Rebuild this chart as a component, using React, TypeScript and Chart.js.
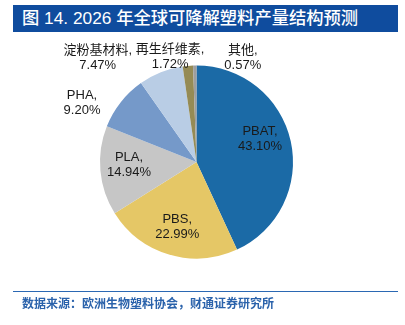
import React, { useEffect, useRef } from "react";
import { Chart, registerables } from "chart.js";

Chart.register(...registerables);

const categories = ["PBAT", "PBS", "PLA", "PHA", "淀粉基材料", "再生纤维素", "其他"];
const shares = [43.1, 22.99, 14.94, 9.2, 7.47, 1.72, 0.57];
const colors = ["#1b6aa6", "#e5c766", "#c6c6c6", "#7599c9", "#b9cde5", "#958b55", "#9e9e9e"];
// label placement: clockwise angle shift (deg) from slice middle, and radius factor
const labelAngleShift = [-7.6, 0, 2.7, -11, -21.7, -9, 25];
const labelRadius = [0.7, 0.7, 0.7, 1.335, 1.49, 1.12, 1.18];

const FONT = '"Liberation Sans", Arial, "Noto Sans CJK SC", sans-serif';

const labelPlugin = {
  id: "sliceLabels",
  afterDatasetsDraw(chart: any) {
    const meta = chart.getDatasetMeta(0);
    const ctx = chart.ctx;
    ctx.save();
    ctx.fillStyle = "#1a1a1a";
    ctx.font = `13px ${FONT}`;
    ctx.textAlign = "center";
    ctx.textBaseline = "middle";
    meta.data.forEach((arc: any, i: number) => {
      const p = arc.getProps(["x", "y", "startAngle", "endAngle", "outerRadius"], true);
      const mid = (p.startAngle + p.endAngle) / 2 + (labelAngleShift[i] * Math.PI) / 180;
      const r = p.outerRadius * labelRadius[i];
      const lx = p.x + Math.cos(mid) * r;
      const ly = p.y + Math.sin(mid) * r;
      const lines = [categories[i] + ",", shares[i].toFixed(2) + "%"];
      const lh = 15;
      lines.forEach((t, k) => {
        ctx.fillText(t, lx, ly + (k - (lines.length - 1) / 2) * lh);
      });
    });
    ctx.restore();
  },
};

export default function App() {
  const ref = useRef<HTMLCanvasElement | null>(null);
  useEffect(() => {
    if (!ref.current) return;
    const chart = new Chart(ref.current, {
      type: "pie",
      data: {
        labels: categories,
        datasets: [
          {
            data: shares,
            backgroundColor: colors,
            borderWidth: 0,
          },
        ],
      },
      options: {
        animation: false,
        responsive: false,
        layout: { padding: { left: 100, right: 112, top: 65.5, bottom: 66.5 } },
        plugins: {
          legend: { display: false },
          tooltip: { enabled: false },
        },
      },
      plugins: [labelPlugin],
    });
    return () => chart.destroy();
  }, []);

  return (
    <div
      style={{
        position: "fixed",
        left: 0,
        top: 0,
        width: 405,
        height: 325,
        background: "#fff",
        fontFamily: '"Noto Sans CJK SC", sans-serif',
      }}
    >
      <canvas ref={ref} width={405} height={325} style={{ position: "absolute", left: 0, top: 0 }} />
      <div
        style={{
          position: "absolute",
          left: 13,
          top: 5,
          width: 385,
          height: 27,
          background: "#0f4c9e",
          color: "#fff",
          fontSize: 17.3,
          fontWeight: 500,
          lineHeight: "27px",
          paddingLeft: 9,
          boxSizing: "border-box",
          whiteSpace: "nowrap",
          fontFamily: '"Liberation Sans", "Noto Sans CJK SC", sans-serif',
        }}
      >
        图 14. 2026 年全球可降解塑料产量结构预测
      </div>
      <div
        style={{
          position: "absolute",
          left: 13,
          top: 291,
          width: 385,
          height: 1,
          background: "#2b68b3",
        }}
      />
      <div
        style={{
          position: "absolute",
          left: 22,
          top: 295,
          fontSize: 12,
          fontWeight: 700,
          color: "#2a62ab",
          lineHeight: "16px",
          whiteSpace: "nowrap",
        }}
      >
        数据来源：欧洲生物塑料协会，财通证券研究所
      </div>
    </div>
  );
}
